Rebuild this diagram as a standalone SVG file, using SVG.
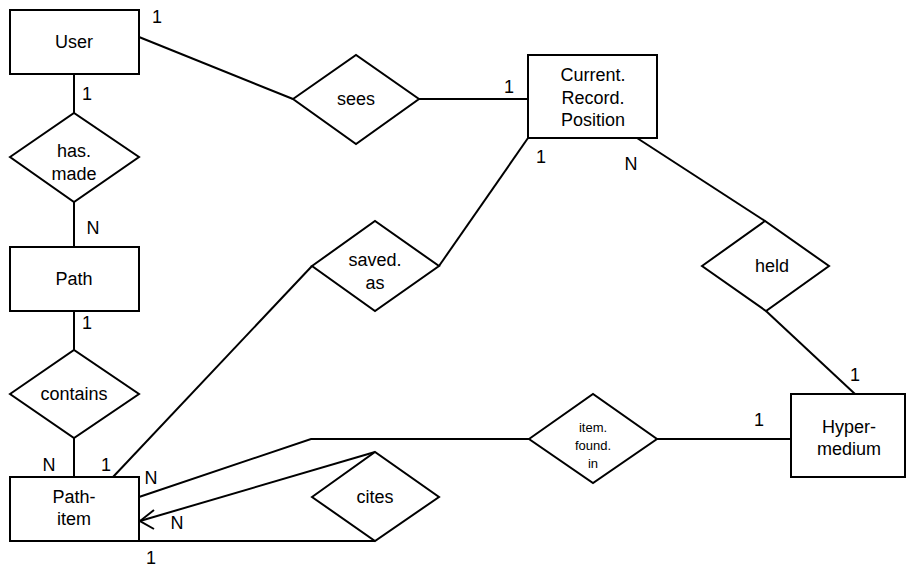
<svg xmlns="http://www.w3.org/2000/svg" width="907" height="567" viewBox="0 0 907 567">
<style>
.s{fill:#fff;stroke:#000;stroke-width:2}
.l{fill:none;stroke:#000;stroke-width:2}
text{font-family:"Liberation Sans",Arial,sans-serif;font-size:18px;fill:#000;text-anchor:middle}
.sm{font-size:13px}
</style>
<rect width="907" height="567" fill="#fff"/>
<g id="connectors">
<polyline class="l" points="139,37 293,99"/>
<polyline class="l" points="419,99 528,99"/>
<polyline class="l" points="74,74 74,113"/>
<polyline class="l" points="74,202 74,247"/>
<polyline class="l" points="74,311 74,350"/>
<polyline class="l" points="74,438 74,477"/>
<polyline class="l" points="113,477 312,266"/>
<polyline class="l" points="439,266 528,138"/>
<polyline class="l" points="637,138 765,221"/>
<polyline class="l" points="766,311 855,394"/>
<polyline class="l" points="791,439 657,439"/>
<polyline class="l" points="529,439 311,439 139,497"/>
<polyline class="l" points="375,452 140,521"/>
<polyline class="l" points="154,510 140,521 154,529"/>
<polyline class="l" points="375,541 139,541"/>
<text x="157" y="23">1</text>
<text x="87" y="100">1</text>
<text x="93" y="234">N</text>
<text x="87" y="329">1</text>
<text x="49" y="471">N</text>
<text x="106" y="471">1</text>
<text x="509" y="93">1</text>
<text x="541" y="163">1</text>
<text x="631" y="170">N</text>
<text x="855" y="381">1</text>
<text x="759" y="426">1</text>
<text x="151" y="484">N</text>
<text x="177" y="529">N</text>
<text x="151" y="564">1</text>
</g>
<g id="user"><rect class="s" x="10" y="10" width="129" height="64"/><text x="74" y="48">User</text></g>
<g id="path"><rect class="s" x="10" y="247" width="129" height="64"/><text x="74" y="285">Path</text></g>
<g id="path-item"><rect class="s" x="10" y="477" width="129" height="64"/><text x="74" y="503">Path-</text><text x="74" y="525">item</text></g>
<g id="current-record-position"><rect class="s" x="528" y="55" width="129" height="83"/><text x="593" y="81">Current.</text><text x="593" y="104">Record.</text><text x="593" y="126">Position</text></g>
<g id="hypermedium"><rect class="s" x="791" y="394" width="114" height="83"/><text x="849" y="433">Hyper-</text><text x="849" y="455">medium</text></g>
<g id="sees"><polygon class="s" points="293,99 356,55 419,99 356,144"/><text x="356" y="105">sees</text></g>
<g id="has-made"><polygon class="s" points="10,157 74,113 139,157 74,202"/><text x="74" y="157">has.</text><text x="74" y="180">made</text></g>
<g id="contains"><polygon class="s" points="10,394 74,350 139,394 74,438"/><text x="74" y="400">contains</text></g>
<g id="saved-as"><polygon class="s" points="312,266 375,221 439,266 375,311"/><text x="375" y="266">saved.</text><text x="375" y="289">as</text></g>
<g id="held"><polygon class="s" points="702,266 765,221 829,266 766,311"/><text x="772" y="272">held</text></g>
<g id="item-found-in"><polygon class="s" points="529,439 593,394 657,439 593,483"/><text class="sm" x="593" y="432">item.</text><text class="sm" x="593" y="450">found.</text><text class="sm" x="593" y="468">in</text></g>
<g id="cites"><polygon class="s" points="312,497 375,452 439,497 375,541"/><text x="375" y="503">cites</text></g>
</svg>
